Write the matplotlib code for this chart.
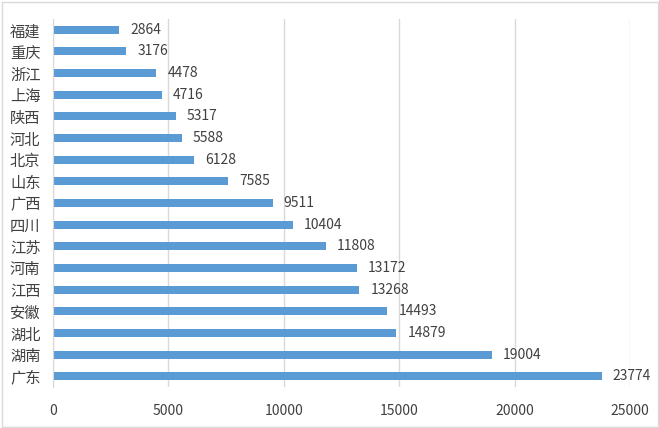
import matplotlib
matplotlib.use("Agg")
import matplotlib.pyplot as plt
from matplotlib.patches import Rectangle

plt.rcParams['font.family'] = ['Noto Sans CJK SC', 'DejaVu Sans']

provinces = ["福建", "重庆", "浙江", "上海", "陕西", "河北", "北京", "山东", "广西",
             "四川", "江苏", "河南", "江西", "安徽", "湖北", "湖南", "广东"]
values = [2864, 3176, 4478, 4716, 5317, 5588, 6128, 7585, 9511,
          10404, 11808, 13172, 13268, 14493, 14879, 19004, 23774]
xticks = [0, 5000, 10000, 15000, 20000, 25000]

W, H = 659, 428
fig = plt.figure(figsize=(W / 100, H / 100), dpi=100)
ax = fig.add_axes([53 / W, 1 - 387 / H, (630 - 53) / W, (387 - 19) / H])

y = list(range(len(provinces)))
ax.barh(y, values, height=0.37, color="#5B9BD5", zorder=3)
ax.set_ylim(len(provinces) - 0.5, -0.5)
ax.set_xlim(0, 25000)
ax.set_yticks(y)
ax.set_yticklabels(provinces, fontsize=11, color="#404040")
ax.set_xticks(xticks)
ax.set_xticklabels([str(t) for t in xticks], fontsize=10, color="#404040")
ax.tick_params(axis='both', length=0)
ax.tick_params(axis='x', pad=12)
ax.tick_params(axis='y', pad=9)
ax.grid(axis='x', color="#D9D9D9", linewidth=1, zorder=0)
for s in ['top', 'right', 'bottom']:
    ax.spines[s].set_visible(False)
ax.spines['left'].set_color("#D9D9D9")
ax.spines['left'].set_zorder(4)

for yi, v in zip(y, values):
    ax.annotate(str(v), (v, yi), xytext=(8, 0), textcoords='offset points',
                va='center', ha='left', fontsize=10, color="#404040")

fig.patches.append(Rectangle((1.5 / W, 1.5 / H), (W - 3) / W, (H - 3) / H,
                             transform=fig.transFigure, fill=False,
                             edgecolor="#D9D9D9", linewidth=1))
fig.savefig("out.png", dpi=100)
